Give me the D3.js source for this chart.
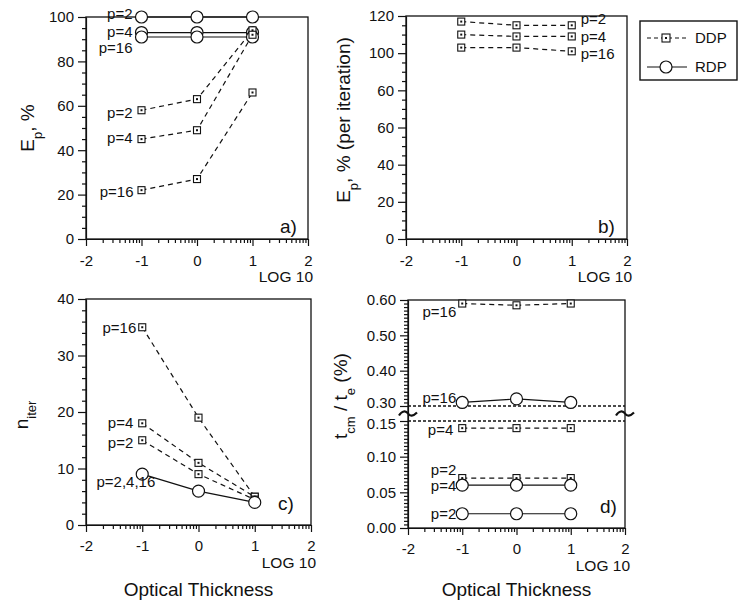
<!DOCTYPE html>
<html>
<head>
<meta charset="utf-8">
<script src="https://cdn.jsdelivr.net/npm/d3@7"></script>
<style>
  body { margin: 0; background: #fff; }
  svg text { font-family: "Liberation Sans", Arial, Helvetica, sans-serif; fill: #111; }
</style>
</head>
<body>
<svg id="chart" width="738" height="605"></svg>
<script>
// optical thickness, log10
const tau = [-1, 0, 1]
const xTicks = [-2, -1, 0, 1, 2]

// a) parallel efficiency, %
const effDdpP2 = [58, 63, 94]
const effDdpP4 = [45, 49, 92]
const effDdpP16 = [22, 27, 66]
const effRdpP2 = [100, 100, 100]
const effRdpP4 = [93, 93, 93]
const effRdpP16 = [91, 91, 91]
const aYTicks = [0, 20, 40, 60, 80, 100]

// b) efficiency per iteration, % (DDP only)
const iterEffP2 = [117, 115, 115]
const iterEffP4 = [110, 109, 109]
const iterEffP16 = [103, 103, 101]
const bYTicks = [0, 20, 40, 60, 80, 100, 120]
const bYTickLabels = ['0', '20', '40', '60', '60', '100', '120'] // as printed

// c) number of iterations
const iterDdpP2 = [15, 9, 4.5]
const iterDdpP4 = [18, 11, 5]
const iterDdpP16 = [35, 19, 5]
const iterRdp = [9, 6, 4]
const cYTicks = [0, 10, 20, 30, 40]

// d) communication time / execution time, %
const commDdpP2 = [0.07, 0.07, 0.07]
const commDdpP4 = [0.14, 0.14, 0.14]
const commDdpP16 = [0.59, 0.585, 0.59]
const commRdpP2 = [0.02, 0.02, 0.02]
const commRdpP4 = [0.06, 0.06, 0.06]
const commRdpP16 = [0.31, 0.32, 0.31]
const dYTicks = [0, 0.05, 0.10, 0.15, 0.30, 0.40, 0.50, 0.60]

const INK = '#111'
const FONT = '"Liberation Sans", Arial, Helvetica, sans-serif'
const svg = d3.select('#chart')

// minor ticks of a log axis: d + log10(k)
const logMinor = []
for (let d = -2; d < 2; d++)
  for (let k = 2; k <= 9; k++) logMinor.push(d + Math.log10(k))

function minorRange(lo, hi, step, majors) {
  return d3.range(lo, hi + step / 2, step)
    .filter((v)=> !majors.some((m)=> Math.abs(m - v) < step / 10))
}

function drawAxes(g, x, y, opts) {
  const [x0, x1] = x.range()
  const dom = y.domain()
  const yb = y(dom[0]), yt = y(dom[dom.length - 1])

  g.append('rect')
    .attr('x', x0).attr('y', yt)
    .attr('width', x1 - x0).attr('height', yb - yt)
    .attr('fill', 'none').attr('stroke', INK).attr('stroke-width', 1.3)

  const xa = g.append('g').attr('transform', `translate(0,${yb})`)
    .call(d3.axisBottom(x).tickValues(xTicks).tickSize(7).tickSizeOuter(0).tickPadding(opts.xPad)
      .tickFormat((d)=> String(d)))
  xa.attr('font-size', 15).attr('font-family', FONT)
  g.append('g').attr('transform', `translate(0,${yb})`)
    .call(d3.axisBottom(x).tickValues(logMinor).tickSize(4).tickFormat(''))
    .select('.domain').remove()

  const ya = g.append('g').attr('transform', `translate(${x0},0)`)
    .call(d3.axisLeft(y).tickValues(opts.yTicks).tickSize(8).tickSizeOuter(0).tickPadding(4)
      .tickFormat(opts.yFormat))
  ya.attr('font-size', 15).attr('font-family', FONT)
  if (opts.yNudge) ya.selectAll('.tick text').attr('dy', (d)=> `${0.32 + (opts.yNudge[d] || 0)}em`)
  g.append('g').attr('transform', `translate(${x0},0)`)
    .call(d3.axisLeft(y).tickValues(opts.yMinor).tickSize(4).tickFormat(''))
    .select('.domain').remove()

  g.selectAll('.tick line, .domain').attr('stroke', INK).attr('stroke-width', 1.2)
  g.selectAll('.tick text').attr('fill', INK)

  g.append('text')
    .attr('x', x1 + 5).attr('y', yb + 43)
    .attr('text-anchor', 'end').attr('font-size', 15.5)
    .text('LOG 10')
}

function square(g, cx, cy, s) {
  g.append('rect').attr('x', cx - s / 2).attr('y', cy - s / 2)
    .attr('width', s).attr('height', s)
    .attr('fill', '#fff').attr('stroke', INK).attr('stroke-width', 1.1)
  g.append('rect').attr('x', cx - 1).attr('y', cy - 1)
    .attr('width', 2).attr('height', 2).attr('fill', INK)
}

function circle(g, cx, cy, r) {
  g.append('circle').attr('cx', cx).attr('cy', cy).attr('r', r)
    .attr('fill', '#fff').attr('stroke', INK).attr('stroke-width', 1.2)
}

function drawSeries(g, x, y, list) {
  const line = d3.line().x((d, i)=> x(tau[i])).y((d)=> y(d))
  list.forEach((s)=> {
    g.append('path').attr('d', line(s.v))
      .attr('fill', 'none').attr('stroke', INK).attr('stroke-width', 1.2)
      .attr('stroke-dasharray', s.kind === 'ddp' ? '5,4' : null)
  })
  list.forEach((s)=> {
    s.v.forEach((d, i)=> {
      if (s.kind === 'ddp') square(g, x(tau[i]), y(d), 7)
      else circle(g, x(tau[i]), y(d), 6)
    })
  })
  list.forEach((s)=> {
    if (!s.text) return
    g.append('text')
      .attr('x', x(tau[s.at]) + s.dx)
      .attr('y', y(s.v[s.at]) + s.dy)
      .attr('dy', '0.35em')
      .attr('text-anchor', s.anchor)
      .attr('font-size', 15)
      .text(s.text)
  })
}

function yTitle(x, y, parts) {
  const t = svg.append('text')
    .attr('transform', `translate(${x},${y}) rotate(-90)`)
    .attr('text-anchor', 'middle').attr('font-size', 19)
  parts.forEach(([str, sub])=> {
    const ts = t.append('tspan').text(str)
    if (sub) ts.attr('font-size', 13).attr('baseline-shift', 'sub')
  })
}

function panelLetter(x, y, str) {
  svg.append('text').attr('x', x).attr('y', y).attr('font-size', 19).text(str)
}

// ---- a)
const xa = d3.scaleLinear().domain([-2, 2]).range([86, 308])
const ya = d3.scaleLinear().domain([0, 100]).range([239, 17])
const ga = svg.append('g')
drawAxes(ga, xa, ya, { xPad: 9, yTicks: aYTicks, yMinor: minorRange(0, 100, 5, aYTicks), yFormat: d3.format('d') })
drawSeries(ga, xa, ya, [
  { v: effRdpP2, kind: 'rdp', text: 'p=2', at: 0, dx: -9, dy: -3, anchor: 'end' },
  { v: effRdpP4, kind: 'rdp', text: 'p=4', at: 0, dx: -9, dy: -1, anchor: 'end' },
  { v: effRdpP16, kind: 'rdp', text: 'p=16', at: 0, dx: -9, dy: 11, anchor: 'end' },
  { v: effDdpP2, kind: 'ddp', text: 'p=2', at: 0, dx: -9, dy: 3, anchor: 'end' },
  { v: effDdpP4, kind: 'ddp', text: 'p=4', at: 0, dx: -9, dy: -1, anchor: 'end' },
  { v: effDdpP16, kind: 'ddp', text: 'p=16', at: 0, dx: -8, dy: 2, anchor: 'end' }
])
yTitle(34, 128, [['E'], ['p', true], [', %']])
panelLetter(280, 233, 'a)')

// ---- b)
const xb = d3.scaleLinear().domain([-2, 2]).range([406, 627])
const yb = d3.scaleLinear().domain([0, 120]).range([239, 16])
const gb = svg.append('g')
drawAxes(gb, xb, yb, { xPad: 9, yTicks: bYTicks, yMinor: minorRange(0, 120, 5, bYTicks),
  yFormat: (d, i)=> bYTickLabels[i] })
drawSeries(gb, xb, yb, [
  { v: iterEffP2, kind: 'ddp', text: 'p=2', at: 2, dx: 9, dy: -7, anchor: 'start' },
  { v: iterEffP4, kind: 'ddp', text: 'p=4', at: 2, dx: 9, dy: 0, anchor: 'start' },
  { v: iterEffP16, kind: 'ddp', text: 'p=16', at: 2, dx: 9, dy: 2, anchor: 'start' }
])
yTitle(350, 120, [['E'], ['p', true], [', % (per iteration)']])
panelLetter(598, 233, 'b)')

// ---- c)
const xc = d3.scaleLinear().domain([-2, 2]).range([86, 311])
const yc = d3.scaleLinear().domain([0, 40]).range([525, 299])
const gc = svg.append('g')
drawAxes(gc, xc, yc, { xPad: 8, yTicks: cYTicks, yMinor: minorRange(0, 40, 2, cYTicks), yFormat: d3.format('d') })
drawSeries(gc, xc, yc, [
  { v: iterDdpP16, kind: 'ddp', text: 'p=16', at: 0, dx: -6, dy: 0, anchor: 'end' },
  { v: iterDdpP4, kind: 'ddp', text: 'p=4', at: 0, dx: -9, dy: -1, anchor: 'end' },
  { v: iterDdpP2, kind: 'ddp', text: 'p=2', at: 0, dx: -9, dy: 2, anchor: 'end' },
  { v: iterRdp, kind: 'rdp', text: 'p=2,4,16', at: 0, dx: 13, dy: 8, anchor: 'end' }
])
yTitle(28, 415, [['n'], ['iter', true]])
panelLetter(278, 510, 'c)')

// ---- d) broken axis: 0-0.15 below, 0.30-0.60 above
const xd = d3.scaleLinear().domain([-2, 2]).range([408, 625])
const yd = d3.scaleLinear().domain([0, 0.15, 0.30, 0.60]).range([528, 421, 406, 300])
const gd = svg.append('g')
const dMinor = minorRange(0, 0.15, 0.005, dYTicks).concat(minorRange(0.30, 0.60, 0.01, dYTicks))
drawAxes(gd, xd, yd, { xPad: 8, yTicks: dYTicks, yMinor: dMinor, yFormat: d3.format('.2f'),
  yNudge: { 0.3: -0.2, 0.15: 0.2 } })

;[0.30, 0.15].forEach((v)=> {
  gd.append('line')
    .attr('x1', xd(-2)).attr('x2', xd(2))
    .attr('y1', yd(v)).attr('y2', yd(v))
    .attr('stroke', INK).attr('stroke-width', 1.3).attr('stroke-dasharray', '3,2')
})
const breakY = (yd(0.30) + yd(0.15)) / 2
;[xd(-2), xd(2)].forEach((bx)=> {
  gd.append('path')
    .attr('transform', `translate(${bx},${breakY})`)
    .attr('d', 'M-9,2 C-6,-3 -2,-3 0,0 S5,3 9,-1')
    .attr('fill', 'none').attr('stroke', INK).attr('stroke-width', 2.2)
})

drawSeries(gd, xd, yd, [
  { v: commDdpP16, kind: 'ddp', text: 'p=16', at: 0, dx: -6, dy: 8, anchor: 'end' },
  { v: commRdpP16, kind: 'rdp', text: 'p=16', at: 0, dx: -6, dy: -5, anchor: 'end' },
  { v: commDdpP4, kind: 'ddp', text: 'p=4', at: 0, dx: -9, dy: 2, anchor: 'end' },
  { v: commDdpP2, kind: 'ddp', text: 'p=2', at: 0, dx: -6, dy: -8, anchor: 'end' },
  { v: commRdpP4, kind: 'rdp', text: 'p=4', at: 0, dx: -6, dy: 1, anchor: 'end' },
  { v: commRdpP2, kind: 'rdp', text: 'p=2', at: 0, dx: -6, dy: 0, anchor: 'end' }
])
yTitle(347, 396, [['t'], ['cm', true], [' / t'], ['e', true], [' (%)']])
panelLetter(600, 513, 'd)')

// x titles
;[[xc, 596], [xd, 596]].forEach(([x, y])=> {
  svg.append('text').attr('x', x(0)).attr('y', y)
    .attr('text-anchor', 'middle').attr('font-size', 19)
    .text('Optical Thickness')
})

// legend
const lg = svg.append('g')
lg.append('rect').attr('x', 640).attr('y', 21).attr('width', 97).attr('height', 59)
  .attr('fill', '#fff').attr('stroke', INK).attr('stroke-width', 1.4)
;[['DDP', 'ddp', 38], ['RDP', 'rdp', 67]].forEach(([name, kind, ly])=> {
  lg.append('line').attr('x1', 647).attr('x2', 687).attr('y1', ly).attr('y2', ly)
    .attr('stroke', INK).attr('stroke-width', 1.2)
    .attr('stroke-dasharray', kind === 'ddp' ? '4,3' : null)
  if (kind === 'ddp') square(lg, 666, ly, 8)
  else circle(lg, 666, ly, 6)
  lg.append('text').attr('x', 695).attr('y', ly).attr('dy', '0.35em')
    .attr('font-size', 15).text(name)
})
</script>
</body>
</html>
